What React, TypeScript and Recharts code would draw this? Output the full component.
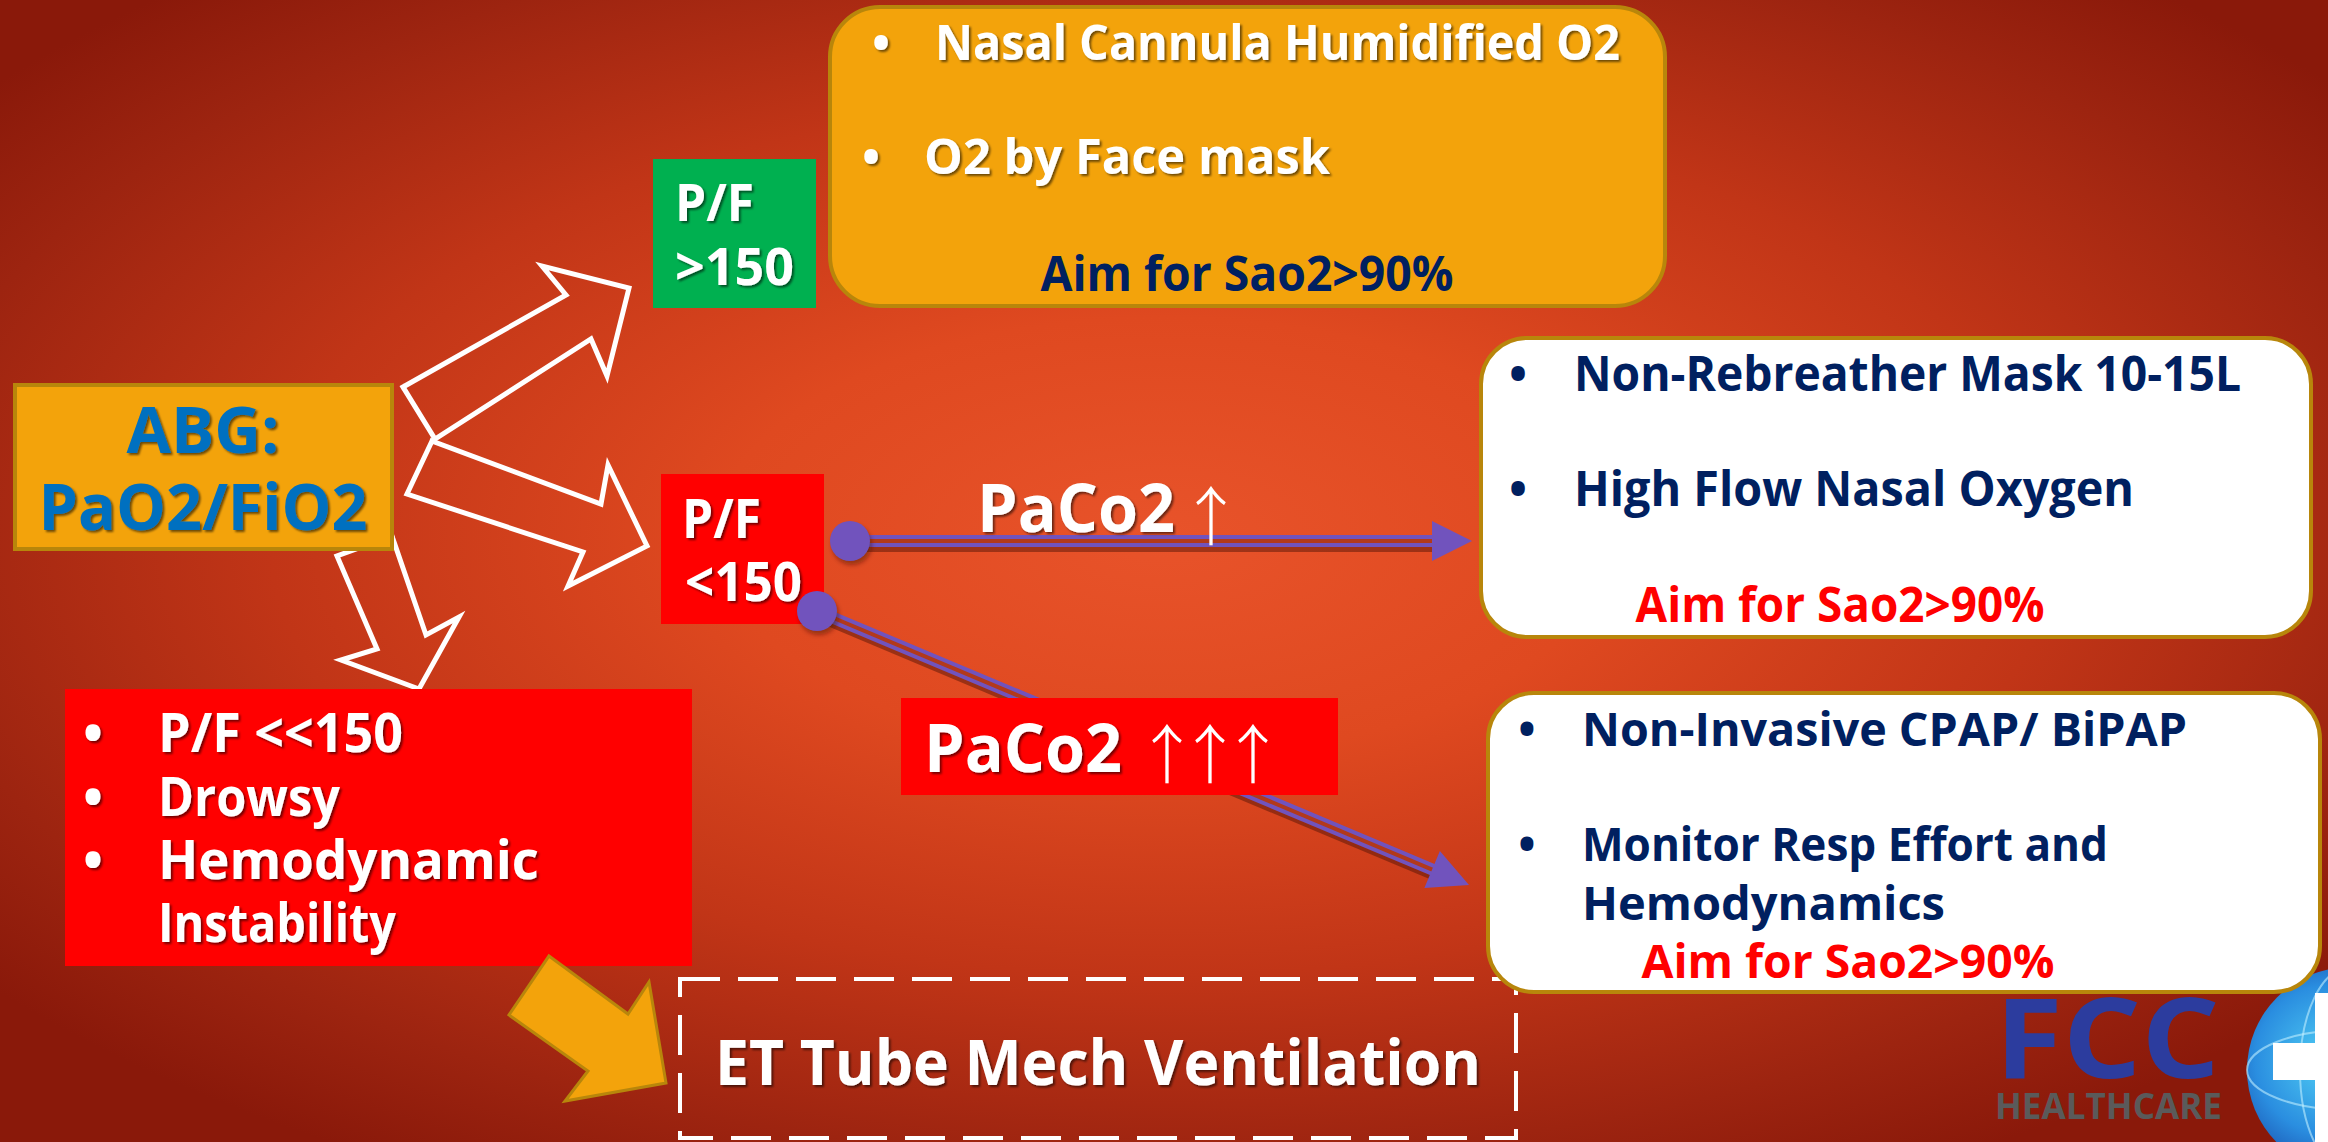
import React from 'react';
import { ComposedChart, XAxis, YAxis, Line, ReferenceArea, ReferenceDot } from 'recharts';

const W = 2328;
const H = 1142;

// ---- text content ----
const ABG_LINES = ['ABG:', 'PaO2/FiO2'];
const PF_HIGH = ['P/F', '>150'];
const PF_LOW = ['P/F', '<150'];
const MILD_STEPS = ['Nasal Cannula Humidified O2', 'O2 by Face mask'];
const LOW_CO2_STEPS = ['Non-Rebreather Mask 10-15L', 'High Flow Nasal Oxygen'];
const HIGH_CO2_STEPS = ['Non-Invasive CPAP/ BiPAP', 'Monitor Resp Effort and', 'Hemodynamics'];
const SEVERE_SIGNS = ['P/F <<150', 'Drowsy', 'Hemodynamic', 'Instability'];
const AIM = 'Aim for Sao2>90%';
const PACO2 = 'PaCo2';
const UP = '↑';
const VENT = 'ET Tube Mech Ventilation';
const LOGO = ['FCC', 'HEALTHCARE'];

// ---- outline of the block arrows (diagram units = px of the slide) ----
const FORK_UP = [[403, 387], [566, 295], [542, 266], [629, 288], [607, 376], [591, 339], [435, 439]];
const FORK_RIGHT = [[432, 441], [601, 504], [608, 465], [647, 546], [568, 586], [583, 552], [407, 494]];
const FORK_DOWN = [[392, 536], [426, 635], [459, 617], [419, 689], [341, 660], [377, 649], [337, 556]];
const ESCALATE = [[549, 956], [628, 1014], [649, 982], [666, 1083], [565, 1101], [588, 1071], [509, 1015]];

// connectors from P/F <150
const LINK_LOW = { from: { x: 850, y: 541 }, to: { x: 1472, y: 541 } };
const LINK_HIGH = { from: { x: 817, y: 611 }, to: { x: 1469, y: 885 } };

// colours
const GOLD = '#F3A30B';
const GOLD_EDGE = '#B8860B';
const GREEN = '#00B050';
const RED = '#FF0000';
const NAVY = '#002060';
const BLUE = '#0070C0';
const PURPLE = '#7153BD';
const WHITE = '#FFFFFF';
const FONT = '"Open Sans", "DejaVu Sans", sans-serif';
const ARROW_FONT = '"Noto Sans CJK SC", "DejaVu Sans", sans-serif';

type Txt = {
  t: string; x: number; y: number; w?: number; s: number; c: string;
  a?: 'start' | 'middle'; sh?: boolean; f?: string; wt?: number; adj?: 'spacing' | 'spacingAndGlyphs';
};
type Bounds = { x1: number; x2: number; y1: number; y2: number };

const bullet = (x: number, y: number, s: number, c: string, sh = false): Txt => ({ t: '•', x, y, s, c, a: 'middle', sh });
const upArrows = (n: number, x: number, y: number): Txt => ({
  t: UP.repeat(n), x, y, w: n > 1 ? n * 50 : undefined, adj: 'spacing',
  s: 64, c: WHITE, a: 'middle', f: ARROW_FONT, wt: 300,
});

const BOXES: (Bounds & { id: string; fill: string; stroke?: string; sw?: number; r?: number; dash?: string; z: number; texts: Txt[] })[] = [
  {
    id: 'abg', x1: 15, x2: 392, y1: 385, y2: 549, fill: GOLD, stroke: GOLD_EDGE, sw: 4, z: 3,
    texts: [
      { t: ABG_LINES[0], x: 203, y: 453, w: 153, s: 64, c: BLUE, a: 'middle', sh: true },
      { t: ABG_LINES[1], x: 203, y: 530, w: 329, s: 64, c: BLUE, a: 'middle', sh: true },
    ],
  },
  {
    id: 'mild', x1: 830, x2: 1665, y1: 7, y2: 306, fill: GOLD, stroke: GOLD_EDGE, sw: 4, r: 50, z: 3,
    texts: [
      bullet(881, 60, 48, WHITE, true),
      { t: MILD_STEPS[0], x: 935, y: 60, w: 685, s: 48, c: WHITE, sh: true },
      bullet(871, 174, 48, WHITE, true),
      { t: MILD_STEPS[1], x: 924, y: 174, w: 406, s: 48, c: WHITE, sh: true },
      { t: AIM, x: 1247, y: 291, w: 413, s: 48, c: NAVY, a: 'middle' },
    ],
  },
  {
    id: 'pfHigh', x1: 653, x2: 816, y1: 159, y2: 308, fill: GREEN, z: 3,
    texts: [
      { t: PF_HIGH[0], x: 675, y: 221, w: 79, s: 52, c: WHITE, sh: true },
      { t: PF_HIGH[1], x: 675, y: 285, w: 119, s: 52, c: WHITE, sh: true },
    ],
  },
  {
    id: 'pfLow', x1: 661, x2: 824, y1: 474, y2: 624, fill: RED, z: 3,
    texts: [
      { t: PF_LOW[0], x: 682, y: 538, w: 79, s: 53, c: WHITE, sh: true },
      { t: PF_LOW[1], x: 685, y: 601, w: 117, s: 53, c: WHITE, sh: true },
    ],
  },
  {
    id: 'severe', x1: 65, x2: 692, y1: 689, y2: 966, fill: RED, z: 3,
    texts: [
      bullet(93, 752, 53, WHITE, true),
      { t: SEVERE_SIGNS[0], x: 158, y: 752, w: 245, s: 53, c: WHITE, sh: true },
      bullet(93, 816, 53, WHITE, true),
      { t: SEVERE_SIGNS[1], x: 158, y: 816, w: 182, s: 53, c: WHITE, sh: true },
      bullet(93, 879, 53, WHITE, true),
      { t: SEVERE_SIGNS[2], x: 158, y: 879, w: 381, s: 53, c: WHITE, sh: true },
      { t: SEVERE_SIGNS[3], x: 158, y: 942, w: 238, s: 53, c: WHITE, sh: true },
    ],
  },
  {
    id: 'vent', x1: 680, x2: 1516, y1: 979, y2: 1138, fill: 'none', stroke: WHITE, sw: 4, dash: '40 18', z: 3,
    texts: [{ t: VENT, x: 715, y: 1085, w: 766, s: 63, c: WHITE, sh: true }],
  },
  {
    id: 'lowCo2', x1: 1481, x2: 2311, y1: 338, y2: 637, fill: WHITE, stroke: GOLD_EDGE, sw: 4, r: 46, z: 4,
    texts: [
      bullet(1518, 391, 48, NAVY),
      { t: LOW_CO2_STEPS[0], x: 1574, y: 391, w: 667, s: 48, c: NAVY },
      bullet(1518, 506, 48, NAVY),
      { t: LOW_CO2_STEPS[1], x: 1574, y: 506, w: 560, s: 48, c: NAVY },
      { t: AIM, x: 1840, y: 622, w: 409, s: 48, c: RED, a: 'middle' },
    ],
  },
  {
    id: 'highCo2', x1: 1488, x2: 2320, y1: 693, y2: 992, fill: WHITE, stroke: GOLD_EDGE, sw: 4, r: 46, z: 4,
    texts: [
      bullet(1527, 746, 46, NAVY),
      { t: HIGH_CO2_STEPS[0], x: 1582, y: 746, w: 605, s: 46, c: NAVY },
      bullet(1527, 861, 46, NAVY),
      { t: HIGH_CO2_STEPS[1], x: 1582, y: 861, w: 526, s: 46, c: NAVY },
      { t: HIGH_CO2_STEPS[2], x: 1582, y: 920, w: 363, s: 46, c: NAVY },
      { t: AIM, x: 1848, y: 978, w: 413, s: 46, c: RED, a: 'middle' },
    ],
  },
  {
    id: 'paco2High', x1: 901, x2: 1338, y1: 698, y2: 795, fill: RED, z: 7,
    texts: [
      { t: PACO2, x: 924, y: 772, w: 198, s: 66, c: WHITE, sh: true },
      upArrows(3, 1210, 778),
    ],
  },
];

const PACO2_LABEL: Txt[] = [
  { t: PACO2, x: 977, y: 532, w: 198, s: 66, c: WHITE, sh: true },
  upArrows(1, 1211, 540),
];

const LOGO_TEXT: Txt[] = [
  { t: LOGO[0], x: 1995, y: 1078, w: 225, s: 112, c: '#2C3C9E' },
  { t: LOGO[1], x: 1995, y: 1119, w: 227, s: 36, c: '#5A5A5A' },
];

// ---- helpers ----
const toPx = (p: any, b: Bounds) => {
  const sx = p.width / (b.x2 - b.x1);
  const sy = p.height / (b.y2 - b.y1);
  return { X: (v: number) => p.x + (v - b.x1) * sx, Y: (v: number) => p.y + (v - b.y1) * sy };
};

const bbox = (pts: number[][]): Bounds => ({
  x1: Math.min(...pts.map((q) => q[0])),
  x2: Math.max(...pts.map((q) => q[0])),
  y1: Math.min(...pts.map((q) => q[1])),
  y2: Math.max(...pts.map((q) => q[1])),
});

const closed = (pts: number[][]) => [...pts, pts[0]].map(([x, y]) => ({ x, y }));

const renderTexts = (texts: Txt[], X: (v: number) => number, Y: (v: number) => number, key: string) =>
  texts.map((t, i) => (
    <text
      key={`${key}-${i}`}
      x={X(t.x)}
      y={Y(t.y)}
      fontSize={t.s}
      fontFamily={t.f || FONT}
      fontWeight={t.wt || 700}
      fill={t.c}
      textAnchor={t.a || 'start'}
      textLength={t.w}
      lengthAdjust={t.w ? t.adj || 'spacingAndGlyphs' : undefined}
      filter={t.sh ? 'url(#textShadow)' : undefined}
    >
      {t.t}
    </text>
  ));

const polyArea = (key: string, pts: number[][], fill: string, stroke: string, sw: number, z: number) => {
  const b = bbox(pts);
  return (
    <ReferenceArea
      key={key}
      x1={b.x1}
      x2={b.x2}
      y1={b.y1}
      y2={b.y2}
      ifOverflow="visible"
      zIndex={z}
      shape={(p: any) => {
        const { X, Y } = toPx(p, b);
        return (
          <polygon
            points={pts.map(([x, y]) => `${X(x)},${Y(y)}`).join(' ')}
            fill={fill}
            stroke={stroke}
            strokeWidth={sw}
            strokeLinejoin="miter"
          />
        );
      }}
    />
  );
};

const arrowHead = (from: { x: number; y: number }, to: { x: number; y: number }, len = 40, half = 20) => {
  const dx = to.x - from.x;
  const dy = to.y - from.y;
  const L = Math.hypot(dx, dy);
  const ux = dx / L;
  const uy = dy / L;
  const bx = to.x - ux * len;
  const by = to.y - uy * len;
  return {
    tri: [[to.x, to.y], [bx - uy * half, by + ux * half], [bx + uy * half, by - ux * half]],
    shaft: [from, { x: to.x - ux * (len - 4), y: to.y - uy * (len - 4) }],
  };
};

const links = [LINK_LOW, LINK_HIGH].map((l) => arrowHead(l.from, l.to));

const App = () => {
  return (
    <div style={{ position: 'absolute', left: 0, top: 0, width: W, height: H, overflow: 'hidden' }}>
      <ComposedChart width={W} height={H} margin={{ top: 0, right: 0, bottom: 0, left: 0 }}>
        <XAxis type="number" dataKey="x" domain={[0, W]} hide allowDataOverflow />
        <YAxis type="number" domain={[0, H]} reversed hide allowDataOverflow />

        {/* slide background */}
        <ReferenceArea
          x1={0}
          x2={W}
          y1={0}
          y2={H}
          ifOverflow="visible"
          zIndex={1}
          shape={(p: any) => (
            <g>
              <defs>
                <radialGradient id="slideBg" cx="0.5" cy="0.47" r="0.64">
                  <stop offset="0" stopColor="#E8532A" />
                  <stop offset="0.3" stopColor="#DF4920" />
                  <stop offset="0.6" stopColor="#C13517" />
                  <stop offset="0.85" stopColor="#9D2410" />
                  <stop offset="1" stopColor="#8A190A" />
                </radialGradient>
                <radialGradient id="globe" cx="0.4" cy="0.45" r="0.6">
                  <stop offset="0" stopColor="#52D0F5" />
                  <stop offset="0.6" stopColor="#2A8EE0" />
                  <stop offset="1" stopColor="#1748A8" />
                </radialGradient>
                <filter id="textShadow" x="-10%" y="-20%" width="130%" height="150%">
                  <feDropShadow dx="2" dy="2" stdDeviation="1.2" floodColor="#000" floodOpacity="0.55" />
                </filter>
                <filter id="soft" x="-10%" y="-50%" width="130%" height="200%">
                  <feGaussianBlur stdDeviation="2" />
                </filter>
              </defs>
              <rect x={p.x} y={p.y} width={p.width} height={p.height} fill="url(#slideBg)" />
            </g>
          )}
        />

        {/* outlined white block arrows from ABG */}
        {[FORK_UP, FORK_RIGHT, FORK_DOWN].map((pts, i) => (
          <Line
            key={`fork-${i}`}
            data={closed(pts)}
            dataKey="y"
            type="linear"
            stroke={WHITE}
            strokeWidth={5}
            strokeLinejoin="miter"
            strokeLinecap="square"
            dot={false}
            activeDot={false}
            isAnimationActive={false}
            zIndex={2}
          />
        ))}

        {BOXES.filter((b) => b.z < 7).map((b) => (
          <ReferenceArea
            key={b.id}
            x1={b.x1}
            x2={b.x2}
            y1={b.y1}
            y2={b.y2}
            ifOverflow="visible"
            zIndex={b.z}
            shape={(p: any) => {
              const { X, Y } = toPx(p, b);
              return (
                <g>
                  <rect
                    x={p.x}
                    y={p.y}
                    width={p.width}
                    height={p.height}
                    rx={b.r || 0}
                    fill={b.fill}
                    stroke={b.stroke || 'none'}
                    strokeWidth={b.sw || 0}
                    strokeDasharray={b.dash}
                  />
                  {renderTexts(b.texts, X, Y, b.id)}
                </g>
              );
            }}
          />
        ))}

        {/* company logo, bottom right */}
        <ReferenceArea
          x1={1995}
          x2={W}
          y1={967}
          y2={H}
          ifOverflow="visible"
          zIndex={3}
          shape={(p: any) => {
            const b = { x1: 1995, x2: W, y1: 967, y2: H };
            const { X, Y } = toPx(p, b);
            return (
              <g>
                <circle cx={X(2350)} cy={Y(1070)} r={103} fill="url(#globe)" />
                <ellipse cx={X(2350)} cy={Y(1070)} rx={103} ry={40} fill="none" stroke="#BFEFFF" strokeOpacity={0.6} strokeWidth={2} />
                <ellipse cx={X(2350)} cy={Y(1070)} rx={50} ry={103} fill="none" stroke="#BFEFFF" strokeOpacity={0.6} strokeWidth={2} />
                <rect x={X(2273)} y={Y(1043)} width={80} height={37} fill={WHITE} />
                <rect x={X(2315)} y={Y(993)} width={40} height={150} fill={WHITE} />
                {renderTexts(LOGO_TEXT, X, Y, 'logo')}
              </g>
            );
          }}
        />

        {/* purple double-line connectors */}
        {links.map((l, i) => (
          <Line
            key={`lshadow-${i}`}
            data={l.shaft.map((q) => ({ x: q.x + 2, y: q.y + 5 }))}
            dataKey="y"
            type="linear"
            stroke="rgba(70,15,5,0.45)"
            strokeWidth={12}
            dot={false}
            activeDot={false}
            isAnimationActive={false}
            zIndex={5}
          />
        ))}
        {links.map((l, i) => (
          <Line
            key={`link-${i}`}
            data={l.shaft}
            dataKey="y"
            type="linear"
            stroke={PURPLE}
            strokeWidth={12}
            dot={false}
            activeDot={false}
            isAnimationActive={false}
            zIndex={5}
          />
        ))}
        {links.map((l, i) => (
          <Line
            key={`gap-${i}`}
            data={l.shaft}
            dataKey="y"
            type="linear"
            stroke="#B2391B"
            strokeWidth={4}
            dot={false}
            activeDot={false}
            isAnimationActive={false}
            zIndex={5}
          />
        ))}
        {links.map((l, i) => polyArea(`head-${i}`, l.tri, PURPLE, 'none', 0, 6))}
        {[LINK_LOW, LINK_HIGH].map((l, i) => (
          <ReferenceDot
            key={`dot-${i}`}
            x={l.from.x}
            y={l.from.y}
            r={20}
            ifOverflow="visible"
            zIndex={6}
            shape={(p: any) => (
              <g>
                <circle cx={p.cx + 2} cy={p.cy + 4} r={20} fill="rgba(70,15,5,0.45)" filter="url(#soft)" />
                <circle cx={p.cx} cy={p.cy} r={20} fill={PURPLE} />
              </g>
            )}
          />
        ))}

        {BOXES.filter((b) => b.z >= 7).map((b) => (
          <ReferenceArea
            key={b.id}
            x1={b.x1}
            x2={b.x2}
            y1={b.y1}
            y2={b.y2}
            ifOverflow="visible"
            zIndex={b.z}
            shape={(p: any) => {
              const { X, Y } = toPx(p, b);
              return (
                <g>
                  <rect x={p.x} y={p.y} width={p.width} height={p.height} fill={b.fill} />
                  {renderTexts(b.texts, X, Y, b.id)}
                </g>
              );
            }}
          />
        ))}

        {/* PaCo2 label over the first connector */}
        <ReferenceArea
          x1={977}
          x2={1230}
          y1={480}
          y2={550}
          ifOverflow="visible"
          zIndex={7}
          shape={(p: any) => {
            const { X, Y } = toPx(p, { x1: 977, x2: 1230, y1: 480, y2: 550 });
            return <g>{renderTexts(PACO2_LABEL, X, Y, 'paco2')}</g>;
          }}
        />

        {polyArea('escalate', ESCALATE, GOLD, GOLD_EDGE, 3, 8)}
      </ComposedChart>
    </div>
  );
};

export default App;
